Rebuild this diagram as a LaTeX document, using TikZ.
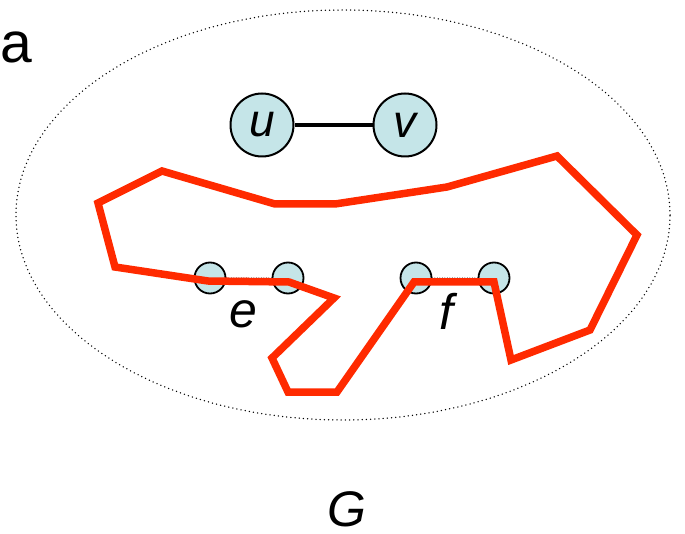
\documentclass[tikz,border=0pt]{standalone}
\usepackage{fontspec}
\setmainfont{Liberation Sans}
\usetikzlibrary{shapes.geometric}
\definecolor{nodefill}{HTML}{C5E5E8}
\definecolor{pathred}{HTML}{FF2A00}
\begin{document}
\begin{tikzpicture}[x=1pt,y=-1pt,
  bignode/.style={circle,draw=black,line width=2pt,fill=nodefill,minimum size=63pt,inner sep=0pt,font=\fontsize{46}{46}\selectfont\itshape},
  smallnode/.style={circle,draw=black,line width=1.8pt,fill=nodefill,minimum size=31pt,inner sep=0pt},
  lbl/.style={font=\fontsize{50}{50}\selectfont\itshape,inner sep=0pt},
  dotline/.style={line width=1.5pt,line cap=round,dash pattern=on 0pt off 4.2pt},
  redpath/.style={draw=pathred,line width=7.5pt,line join=miter}]
\useasboundingbox (0,0) rectangle (685,534);
\node[draw,dotline,ellipse,minimum width=654pt,minimum height=410pt,inner sep=0pt] (ell) at (343,215) {};
\node[inner sep=0pt,font=\fontsize{57}{57}\selectfont,anchor=base west] (a) at (0,63) {a};
\node[bignode] (u) at (262,125) {u};
\node[bignode] (v) at (405,125) {v};
\draw[line width=4pt] (u) -- (v);
\node[smallnode] (e1) at (210,278) {};
\node[smallnode] (e2) at (288,278) {};
\node[smallnode] (f1) at (416,278) {};
\node[smallnode] (f2) at (494,278) {};
\draw[dotline,line width=1pt,dash pattern=on 0pt off 2.5pt] (e1) -- (e2);
\draw[dotline,line width=1pt,dash pattern=on 0pt off 2.5pt] (f1) -- (f2);
\node[lbl,anchor=base] (e) at (243,328) {e};
\node[lbl,anchor=base] (f) at (446,330) {f};
\node[lbl,anchor=base] (G) at (347,526) {G};
\coordinate (p1) at (115,267);
\coordinate (p2) at (98,203);
\coordinate (p3) at (162,171);
\coordinate (p4) at (275,204);
\coordinate (p5) at (335,204);
\coordinate (p6) at (447,187);
\coordinate (p7) at (557,156);
\coordinate (p8) at (637,235);
\coordinate (p9) at (590,330);
\coordinate (p10) at (511,360);
\coordinate (p11) at (494,282);
\coordinate (p12) at (414,282);
\coordinate (p13) at (337,392);
\coordinate (p14) at (288,392);
\coordinate (p15) at (272,358);
\coordinate (p16) at (334,298);
\coordinate (p17) at (289,282);
\coordinate (p18) at (208,281);
\draw[redpath] (p1) -- (p2) -- (p3) -- (p4) -- (p5) -- (p6) -- (p7) -- (p8) -- (p9) -- (p10) -- (p11) -- (p12) -- (p13) -- (p14) -- (p15) -- (p16) -- (p17) -- (p18) -- cycle;
\end{tikzpicture}
\end{document}
